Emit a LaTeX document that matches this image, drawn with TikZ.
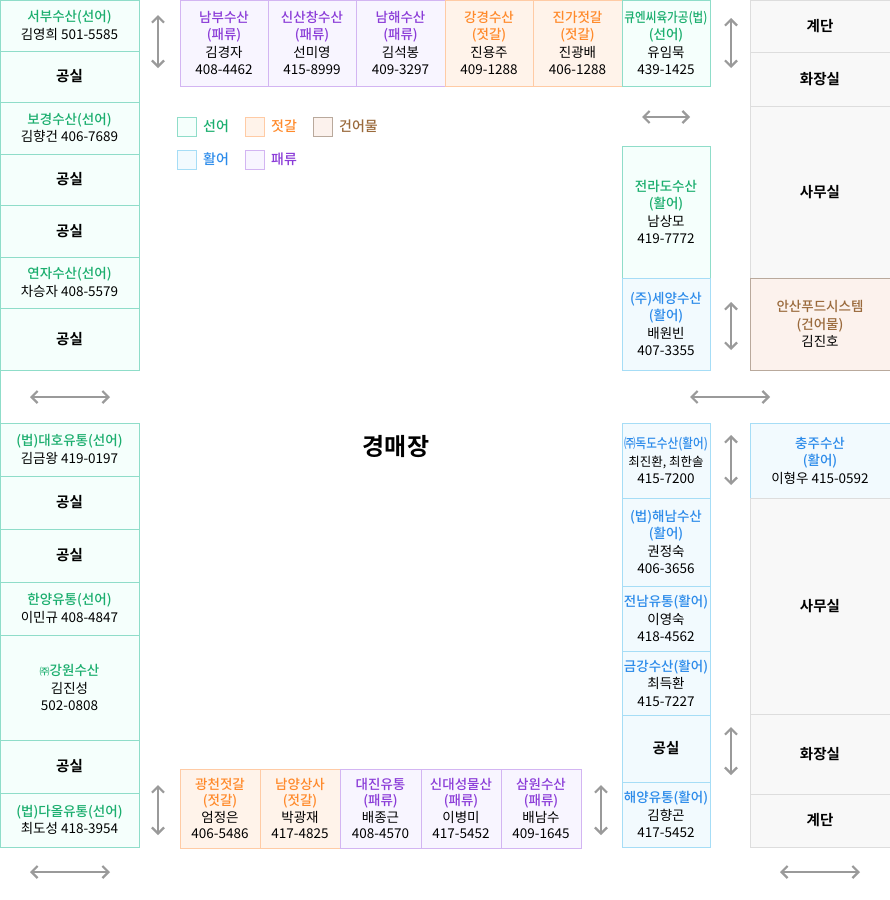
\documentclass[tikz,border=0pt]{standalone}
\usepackage{fontspec}
\usepackage{graphicx}
\usepackage{xcolor}
\setmainfont{Noto Sans CJK KR}[BoldFont={Noto Sans CJK KR Bold}]
\newfontfamily\medfont{Noto Sans CJK KR Medium}
\usetikzlibrary{arrows.meta, positioning}
\definecolor{seoneoline}{HTML}{8FDDC9}
\definecolor{seoneofill}{HTML}{F5FFFC}
\definecolor{seoneotext}{HTML}{1BAE6E}
\definecolor{jeotline}{HTML}{FFCBA5}
\definecolor{jeotfill}{HTML}{FFF3EA}
\definecolor{jeottext}{HTML}{FF8A2B}
\definecolor{geonline}{HTML}{B9A99C}
\definecolor{geonfill}{HTML}{FCF2ED}
\definecolor{geontext}{HTML}{9A6A3C}
\definecolor{hwalline}{HTML}{A6DDF6}
\definecolor{hwalfill}{HTML}{F2FAFE}
\definecolor{hwaltext}{HTML}{2C8BEA}
\definecolor{paeline}{HTML}{D3B5F2}
\definecolor{paefill}{HTML}{F8F5FF}
\definecolor{paetext}{HTML}{8B3CD8}
\definecolor{roomline}{HTML}{DDDDDD}
\definecolor{roomfill}{HTML}{F8F8F8}
\definecolor{waygray}{HTML}{9A9A9A}
\newcommand{\sntitle}[1]{{\medfont\color{seoneotext}#1}}
\newcommand{\jgtitle}[1]{{\medfont\color{jeottext}#1}}
\newcommand{\gmtitle}[1]{{\medfont\color{geontext}#1}}
\newcommand{\hrtitle}[1]{{\medfont\color{hwaltext}#1}}
\newcommand{\prtitle}[1]{{\medfont\color{paetext}#1}}
\newcommand{\narrow}[1]{\scalebox{0.86}[1]{#1}}
\tikzset{
	stall/.style={rectangle, line width=1pt, inner sep=0pt, outer sep=0pt, align=center, font=\fontsize{13.5}{17.5}\selectfont},
	seoneo/.style={stall, draw=seoneoline, fill=seoneofill},
	jeotgal/.style={stall, draw=jeotline, fill=jeotfill},
	geoneo/.style={stall, draw=geonline, fill=geonfill},
	hwaleo/.style={stall, draw=hwalline, fill=hwalfill},
	paeryu/.style={stall, draw=paeline, fill=paefill},
	room/.style={stall, draw=roomline, fill=roomfill, font=\fontsize{14.5}{17}\selectfont\bfseries},
	empty_sn/.style={seoneo, font=\fontsize{14.5}{17}\selectfont\bfseries},
	empty_hr/.style={hwaleo, font=\fontsize{14.5}{17}\selectfont\bfseries},
	legend_box/.style={rectangle, line width=1pt, minimum size=19pt, inner sep=0pt, outer sep=0pt, anchor=north west},
	legend_txt/.style={anchor=west, inner sep=0pt, font=\medfont\fontsize{14}{15}\selectfont},
	way/.style={{Straight Barb[length=6pt, width=12pt]}-{Straight Barb[length=6pt, width=12pt]}, line width=2.2pt, draw=waygray}
}

\begin{document}
\begin{tikzpicture}[x=1pt, y=-1pt]
	\useasboundingbox (0,0) rectangle (890,900);
	% left column, upper part
	\node[seoneo, minimum width=139pt, minimum height=51pt, anchor=north west] (seobu) at (0,0) {\sntitle{서부수산(선어)}\\김영희 501-5585};
	\node[empty_sn, minimum width=139pt, minimum height=51pt, below=0pt of seobu] (gs1) {공실};
	\node[seoneo, minimum width=139pt, minimum height=52pt, below=0pt of gs1] (bogyeong) {\sntitle{보경수산(선어)}\\김향건 406-7689};
	\node[empty_sn, minimum width=139pt, minimum height=51pt, below=0pt of bogyeong] (gs2) {공실};
	\node[empty_sn, minimum width=139pt, minimum height=52pt, below=0pt of gs2] (gs3) {공실};
	\node[seoneo, minimum width=139pt, minimum height=51pt, below=0pt of gs3] (yeonja) {\sntitle{연자수산(선어)}\\차승자 408-5579};
	\node[empty_sn, minimum width=139pt, minimum height=62pt, below=0pt of yeonja] (gs4) {공실};
	% left column, lower part
	\node[seoneo, minimum width=139pt, minimum height=53pt, anchor=north west] (daeho) at (0,423) {\sntitle{(법)대호유통(선어)}\\김금왕 419-0197};
	\node[empty_sn, minimum width=139pt, minimum height=53pt, below=0pt of daeho] (gs5) {공실};
	\node[empty_sn, minimum width=139pt, minimum height=53pt, below=0pt of gs5] (gs6) {공실};
	\node[seoneo, minimum width=139pt, minimum height=53pt, below=0pt of gs6] (hanyang) {\sntitle{한양유통(선어)}\\이민규 408-4847};
	\node[seoneo, minimum width=139pt, minimum height=105pt, below=0pt of hanyang] (gangwon) {\sntitle{{\fontsize{10}{10}\selectfont ㈜}강원수산}\\김진성\\502-0808};
	\node[empty_sn, minimum width=139pt, minimum height=53pt, below=0pt of gangwon] (gs7) {공실};
	\node[seoneo, minimum width=139pt, minimum height=54pt, below=0pt of gs7] (daol) {\sntitle{(법)다올유통(선어)}\\최도성 418-3954};
	\draw[seoneoline, line width=1pt] (seobu.north west) -- (daol.south west);
	% top row
	\node[paeryu, minimum width=88pt, minimum height=86pt, anchor=north west] (nambu) at (180,0) {\prtitle{남부수산}\\\prtitle{(패류)}\\김경자\\408-4462};
	\node[paeryu, minimum width=88pt, minimum height=86pt, right=0pt of nambu] (sinsan) {\prtitle{신산창수산}\\\prtitle{(패류)}\\선미영\\415-8999};
	\node[paeryu, minimum width=89pt, minimum height=86pt, right=0pt of sinsan] (namhae) {\prtitle{남해수산}\\\prtitle{(패류)}\\김석봉\\409-3297};
	\node[jeotgal, minimum width=88pt, minimum height=86pt, right=0pt of namhae] (ganggyeong) {\jgtitle{강경수산}\\\jgtitle{(젓갈)}\\진용주\\409-1288};
	\node[jeotgal, minimum width=89pt, minimum height=86pt, right=0pt of ganggyeong] (jinga) {\jgtitle{진가젓갈}\\\jgtitle{(젓갈)}\\진광배\\406-1288};
	\node[seoneo, minimum width=88pt, minimum height=86pt, right=0pt of jinga] (qnc) {\sntitle{\narrow{큐엔씨육가공(법)}}\\\sntitle{(선어)}\\유임묵\\439-1425};
	% legend
	\node[legend_box, draw=seoneoline, fill=seoneofill] (key_sn) at (177,117) {};
	\node[legend_txt, text=seoneotext, right=7pt of key_sn] (lab_sn) {선어};
	\node[legend_box, draw=jeotline, fill=jeotfill] (key_jg) at (245,117) {};
	\node[legend_txt, text=jeottext, right=7pt of key_jg] (lab_jg) {젓갈};
	\node[legend_box, draw=geonline, fill=geonfill] (key_gm) at (313,117) {};
	\node[legend_txt, text=geontext, right=7pt of key_gm] (lab_gm) {건어물};
	\node[legend_box, draw=hwalline, fill=hwalfill] (key_hr) at (177,150) {};
	\node[legend_txt, text=hwaltext, right=7pt of key_hr] (lab_hr) {활어};
	\node[legend_box, draw=paeline, fill=paefill] (key_pr) at (245,150) {};
	\node[legend_txt, text=paetext, right=7pt of key_pr] (lab_pr) {패류};
	% right side, upper part
	\node[seoneo, minimum width=88pt, minimum height=132pt, anchor=north west] (jeolla) at (622,146) {\sntitle{전라도수산}\\\sntitle{(활어)}\\남상모\\419-7772};
	\node[hwaleo, minimum width=88pt, minimum height=92pt, below=0pt of jeolla] (seyang) {\hrtitle{(주)세양수산}\\\hrtitle{(활어)}\\배원빈\\407-3355};
	\node[room, minimum width=140pt, minimum height=52pt, anchor=north west] (gyedan1) at (750,0) {계단};
	\node[room, minimum width=140pt, minimum height=54pt, below=0pt of gyedan1] (hwajang1) {화장실};
	\node[room, minimum width=140pt, minimum height=172pt, below=0pt of hwajang1] (samu1) {사무실};
	\node[geoneo, minimum width=140pt, minimum height=92pt, below=0pt of samu1] (ansan) {\gmtitle{안산푸드시스템}\\\gmtitle{(건어물)}\\김진호};
	% right side, lower part
	\node[hwaleo, minimum width=88pt, minimum height=75pt, anchor=north west] (dokdo) at (622,423) {\hrtitle{\narrow{㈜독도수산(활어)}}\\{\fontsize{12.5}{17.5}\selectfont 최진환, 최한솔}\\415-7200};
	\node[hwaleo, minimum width=88pt, minimum height=88pt, below=0pt of dokdo] (haenam) {\hrtitle{(법)해남수산}\\\hrtitle{(활어)}\\권정숙\\406-3656};
	\node[hwaleo, minimum width=88pt, minimum height=65pt, below=0pt of haenam] (jeonnam) {\hrtitle{전남유통(활어)}\\이영숙\\418-4562};
	\node[hwaleo, minimum width=88pt, minimum height=64pt, below=0pt of jeonnam] (geumgang) {\hrtitle{금강수산(활어)}\\최득환\\415-7227};
	\node[empty_hr, minimum width=88pt, minimum height=67pt, below=0pt of geumgang] (gs8) {공실};
	\node[hwaleo, minimum width=88pt, minimum height=65pt, below=0pt of gs8] (haeyang) {\hrtitle{해양유통(활어)}\\김향곤\\417-5452};
	\node[hwaleo, minimum width=140pt, minimum height=75pt, anchor=north west] (chungju) at (750,423) {\hrtitle{충주수산}\\\hrtitle{(활어)}\\이형우 415-0592};
	\node[room, minimum width=140pt, minimum height=216pt, below=0pt of chungju] (samu2) {사무실};
	\node[room, minimum width=140pt, minimum height=80pt, below=0pt of samu2] (hwajang2) {화장실};
	\node[room, minimum width=140pt, minimum height=53pt, below=0pt of hwajang2] (gyedan2) {계단};
	% bottom row
	\node[jeotgal, minimum width=80pt, minimum height=79pt, anchor=north west, font=\fontsize{13.5}{16.5}\selectfont] (gwangcheon) at (180,769) {\jgtitle{광천젓갈}\\\jgtitle{(젓갈)}\\엄정은\\406-5486};
	\node[jeotgal, minimum width=80pt, minimum height=79pt, right=0pt of gwangcheon, font=\fontsize{13.5}{16.5}\selectfont] (namyang) {\jgtitle{남양상사}\\\jgtitle{(젓갈)}\\박광재\\417-4825};
	\node[paeryu, minimum width=81pt, minimum height=79pt, right=0pt of namyang, font=\fontsize{13.5}{16.5}\selectfont] (daejin) {\prtitle{대진유통}\\\prtitle{(패류)}\\배종근\\408-4570};
	\node[paeryu, minimum width=80pt, minimum height=79pt, right=0pt of daejin, font=\fontsize{13.5}{16.5}\selectfont] (sindae) {\prtitle{신대성물산}\\\prtitle{(패류)}\\이병미\\417-5452};
	\node[paeryu, minimum width=80pt, minimum height=79pt, right=0pt of sindae, font=\fontsize{13.5}{16.5}\selectfont] (samwon) {\prtitle{삼원수산}\\\prtitle{(패류)}\\배남수\\409-1645};
	% auction floor
	\node[font=\fontsize{24}{28}\selectfont\bfseries] (auction) at (396,447) {경매장};
	% passage arrows
	\coordinate (v1a) at (158,15);  \coordinate (v1b) at (158,68);
	\coordinate (v2a) at (731,18);  \coordinate (v2b) at (731,68);
	\coordinate (h1a) at (642,117); \coordinate (h1b) at (690,117);
	\coordinate (v3a) at (731,302); \coordinate (v3b) at (731,350);
	\coordinate (h2a) at (30,397);  \coordinate (h2b) at (110,397);
	\coordinate (h3a) at (690,397); \coordinate (h3b) at (770,397);
	\coordinate (v4a) at (731,435); \coordinate (v4b) at (731,485);
	\coordinate (v5a) at (731,727); \coordinate (v5b) at (731,775);
	\coordinate (v6a) at (158,785); \coordinate (v6b) at (158,835);
	\coordinate (v7a) at (601,785); \coordinate (v7b) at (601,835);
	\coordinate (h4a) at (30,872);  \coordinate (h4b) at (110,872);
	\coordinate (h5a) at (780,872); \coordinate (h5b) at (860,872);
	\foreach \w in {v1,v2,h1,v3,h2,h3,v4,v5,v6,v7,h4,h5}
		\draw[way] (\w a) -- (\w b);
\end{tikzpicture}
\end{document}
